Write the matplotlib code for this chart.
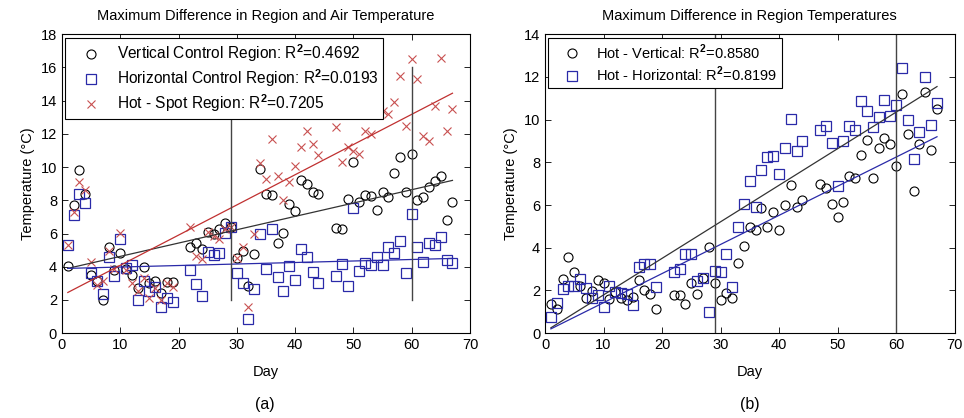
import matplotlib
matplotlib.use("Agg")
import matplotlib.pyplot as plt

plt.rcParams['font.family'] = ['Liberation Sans', 'DejaVu Sans']
plt.rcParams['mathtext.fontset'] = 'custom'
plt.rcParams['mathtext.rm'] = 'Liberation Sans'
plt.rcParams['mathtext.bf'] = 'Liberation Sans:bold'

# days with measurements
days = [1, 2, 3, 4, 5, 6, 7, 8, 9, 10, 11, 12, 13, 14, 15, 16, 17, 18, 19,
        22, 23, 24, 25, 26, 27, 28, 29, 30, 31, 32, 33, 34, 35, 36, 37, 38, 39, 40, 41, 42, 43, 44,
        47, 48, 49, 50, 51, 52, 53, 54, 55, 56, 57, 58, 59, 60, 61, 62, 63, 64, 65, 66, 67]

# (a) region minus air temperature
vertical = [4.05, 7.7, 9.8, 8.4, 3.5, 3.15, 2.0, 5.2, 3.8, 4.85, 3.84, 3.5, 2.7, 3.96, 3.0, 3.15, 2.4, 3.1, 3.1,
            5.2, 5.4, 5.06, 6.1, 6.0, 6.25, 6.65, 6.4, 4.5, 4.96, 2.83, 4.74, 9.9, 8.4, 8.3, 5.4, 6.06, 7.77, 7.35, 9.2, 8.96, 8.5, 8.4,
            6.35, 6.3, 8.07, 10.3, 7.9, 8.3, 8.25, 7.4, 8.5, 8.2, 9.66, 10.6, 8.5, 10.8, 8.0, 8.2, 8.8, 9.17, 9.46, 6.8, 7.9]
horizontal = [5.3, 7.1, 8.37, 7.85, 3.6, 3.15, 2.35, 4.56, 3.45, 5.7, 3.9, 4.1, 2.0, 3.15, 2.53, 2.8, 1.55, 2.1, 1.9,
              3.8, 2.93, 2.23, 4.9, 4.7, 4.85, 6.04, 6.37, 3.63, 3.03, 0.88, 2.63, 5.96, 3.84, 6.27, 3.4, 2.55, 4.05, 3.23, 5.06, 4.56, 3.7, 3.0,
              3.45, 4.14, 2.83, 7.55, 3.75, 4.2, 4.1, 4.56, 4.1, 5.16, 4.85, 5.56, 3.65, 7.15, 5.2, 4.3, 5.4, 5.3, 5.8, 4.4, 4.2]
hotspot = [5.3, 7.3, 9.1, 8.6, 4.26, 2.9, 3.15, 4.94, 3.85, 6.04, 3.8, 3.05, 2.55, 3.3, 2.1, 2.7, 2.0, 3.0, 2.75,
           6.37, 4.66, 4.44, 6.1, 5.86, 5.66, 6.25, 6.4, 4.5, 5.2, 1.6, 6.0, 10.26, 9.27, 11.7, 9.46, 8.0, 9.1, 10.06, 11.2, 12.2, 11.4, 10.7,
           12.4, 10.3, 11.2, 11.0, 10.8, 12.2, 12.0, 13.7, 13.4, 13.2, 13.9, 15.5, 12.5, 16.5, 15.3, 11.9, 11.6, 13.7, 16.6, 12.2, 13.5]

# (b) differences between regions
hot_vert = [1.37, 1.13, 2.53, 3.55, 2.85, 2.19, 1.63, 1.98, 2.47, 2.34, 1.6, 1.95, 1.63, 1.56, 1.7, 2.47, 2.0, 1.84, 1.12,
            1.78, 1.78, 1.38, 2.37, 1.84, 2.58, 4.05, 2.37, 1.56, 1.87, 1.65, 3.29, 4.07, 4.99, 4.83, 5.84, 4.97, 5.68, 4.83, 5.99, 6.95, 5.93, 6.24,
            6.98, 6.82, 6.04, 5.46, 6.16, 7.37, 7.26, 8.36, 9.06, 7.26, 8.68, 9.15, 8.87, 7.85, 11.18, 9.31, 6.64, 8.87, 11.3, 8.6, 10.49]
hot_horiz = [0.77, 1.43, 2.08, 2.19, 2.23, 2.55, 2.1, 1.63, 1.79, 1.24, 2.22, 1.95, 1.87, 1.82, 1.32, 3.08, 3.24, 3.25, 2.14,
             2.85, 3.02, 3.73, 3.73, 2.45, 2.6, 1.0, 2.89, 2.86, 3.73, 2.14, 4.97, 6.07, 7.12, 5.9, 7.66, 8.24, 8.32, 7.45, 8.68, 10.05, 8.52, 9.02,
             9.53, 9.69, 8.9, 6.87, 8.98, 9.7, 9.5, 10.88, 10.41, 9.65, 10.13, 10.94, 10.17, 10.7, 12.44, 10.0, 8.16, 9.42, 11.98, 9.73, 10.8]

# regression lines (value at first and last day)
fit_days = [1, 67]
fit_vertical = [3.9, 9.2]
fit_horizontal = [3.9, 4.5]
fit_hotspot = [2.45, 14.45]
fit_hot_vert = [0.25, 11.55]
fit_hot_horiz = [0.2, 9.2]

# vertical markers (day, bottom, top)
marks_a = [(29, 2.0, 13.0), (60, 2.0, 16.0)]
marks_b = [29, 60]

labels_a = [r"Vertical Control Region: R$^{\mathbf{2}}$=0.4692",
            r"Horizontal Control Region: R$^{\mathbf{2}}$=0.0193",
            r"Hot - Spot Region: R$^{\mathbf{2}}$=0.7205"]
labels_b = [r"Hot - Vertical: R$^{\mathbf{2}}$=0.8580",
            r"Hot - Horizontal: R$^{\mathbf{2}}$=0.8199"]

BLACK = "black"
BLUE = "#2a2aa8"
RED = "#c85050"
FS = 10.5

fig = plt.figure(figsize=(9.64, 4.18), dpi=100)
ax1 = fig.add_axes([0.0643, 0.203, 0.4232, 0.715])
ax2 = fig.add_axes([0.5654, 0.203, 0.4248, 0.715])


def style(ax, ymax, ystep):
    ax.set_xlim(0, 70)
    ax.set_ylim(0, ymax)
    ax.set_xticks(range(0, 71, 10))
    ax.set_yticks(range(0, ymax + 1, ystep))
    ax.tick_params(direction="in", top=True, right=True, labelsize=FS, length=4, width=0.6)
    for s in ax.spines.values():
        s.set_linewidth(0.8)
    ax.set_xlabel("Day", fontsize=FS, labelpad=9)
    ax.set_ylabel("Temperature (°C)", fontsize=FS, labelpad=4)


def add_legend(ax, handles, labels, size):
    leg = ax.legend(handles, labels, loc="upper left", bbox_to_anchor=(0.008, 0.988),
                    borderaxespad=0.0, fontsize=size, frameon=True, fancybox=False,
                    edgecolor="black", framealpha=1.0, handletextpad=0.3,
                    borderpad=0.3, labelspacing=0.22, handlelength=2.7)
    leg.get_frame().set_linewidth(0.8)
    leg.set_zorder(5)
    return leg


ms = 6.5
h1, = ax1.plot(days, vertical, "o", mfc="none", mec=BLACK, ms=ms, mew=0.8)
h2, = ax1.plot(days, horizontal, "s", mfc="none", mec=BLUE, ms=ms, mew=0.9)
h3, = ax1.plot(days, hotspot, "x", color=RED, ms=5.5, mew=0.8)
ax1.plot(fit_days, fit_vertical, color="#333333", lw=0.9)
ax1.plot(fit_days, fit_horizontal, color=BLUE, lw=0.9)
ax1.plot(fit_days, fit_hotspot, color="#c03030", lw=0.9)
for d, lo, hi in marks_a:
    ax1.plot([d, d], [lo, hi], color="#444444", lw=1.0)
style(ax1, 18, 2)
ax1.set_title("Maximum Difference in Region and Air Temperature", fontsize=FS, pad=10)
add_legend(ax1, [h1, h2, h3], labels_a, 11.2)

g1, = ax2.plot(days, hot_vert, "o", mfc="none", mec=BLACK, ms=ms, mew=0.8)
g2, = ax2.plot(days, hot_horiz, "s", mfc="none", mec=BLUE, ms=ms, mew=0.9)
ax2.plot(fit_days, fit_hot_vert, color="#333333", lw=0.9)
ax2.plot(fit_days, fit_hot_horiz, color=BLUE, lw=0.9)
for d in marks_b:
    ax2.axvline(d, color="#444444", lw=1.0)
style(ax2, 14, 2)
ax2.set_title("Maximum Difference in Region Temperatures", fontsize=FS, pad=10)
add_legend(ax2, [g1, g2], labels_b, 10.5)

fig.text(0.275, 0.022, "(a)", fontsize=11.5, ha="center")
fig.text(0.778, 0.022, "(b)", fontsize=11.5, ha="center")

fig.savefig("out.png", dpi=100)
